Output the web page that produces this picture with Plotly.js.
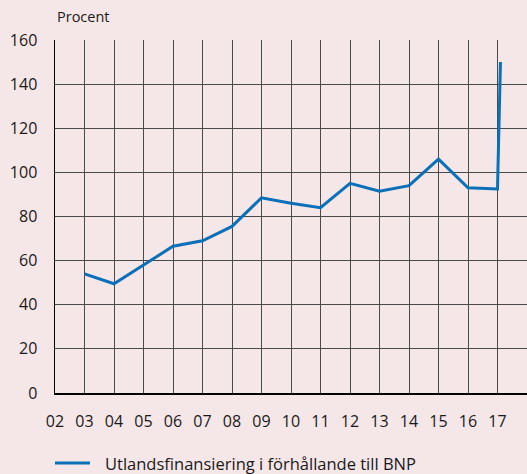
<!DOCTYPE html>
<html><head><meta charset="utf-8">
<script src="https://cdn.plot.ly/plotly-3.0.1.min.js"></script>
<style>html,body{margin:0;padding:0;background:#f5e6e7;}#chart{width:527px;height:474px;}</style>
</head><body><div id="chart"></div>
<script>
const years = [2003, 2004, 2005, 2006, 2007, 2008, 2009, 2010, 2011, 2012, 2013, 2014, 2015, 2016, 2017, 2017.1];
const values = [54, 49.5, 58, 66.5, 69, 75.5, 88.5, 86, 84, 95, 91.5, 94, 106, 93, 92.5, 150];
const tickVals = [2002,2003,2004,2005,2006,2007,2008,2009,2010,2011,2012,2013,2014,2015,2016,2017];
const tickText = ["02","03","04","05","06","07","08","09","10","11","12","13","14","15","16","17"];
const seriesName = "Utlandsfinansiering i förhållande till BNP";

const font = {family: "Open Sans, Lato, sans-serif", size: 16, color: "#1a1a1a"};
const W = 472, H = 353;
Plotly.newPlot("chart", [{
  x: years, y: values, type: "scatter", mode: "lines", name: seriesName,
  line: {color: "#0a70b8", width: 3}
}], {
  width: 527, height: 474,
  paper_bgcolor: "#f5e6e7", plot_bgcolor: "#f5e6e7",
  margin: {l: 55, r: 0, t: 40, b: 81},
  font: font,
  showlegend: false,
  xaxis: {range: [2002, 2018], tickvals: tickVals, ticktext: tickText, showgrid: true, gridcolor: "#4a4a4a", gridwidth: 1,
    showline: true, linecolor: "#000", linewidth: 1.5, ticks: "", ticklabelstandoff: 13, zeroline: false, fixedrange: true,
    tickfont: {size: 16}},
  yaxis: {range: [0, 160], dtick: 20, showgrid: true, gridcolor: "#4a4a4a", gridwidth: 1,
    showline: true, linecolor: "#000", linewidth: 1.5, ticks: "", ticklabelstandoff: 13, zeroline: false,
    tickfont: {size: 16}},
  shapes: [{type: "line", xref: "paper", yref: "paper", x0: 0, x1: 35 / W, y0: (393 - 463) / H, y1: (393 - 463) / H,
    line: {color: "#0a70b8", width: 3}}],
  annotations: [
    {xref: "paper", yref: "paper", x: 0, y: 1, yshift: 12, xanchor: "left", yanchor: "bottom",
     text: "Procent", showarrow: false, font: {size: 14.5}},
    {xref: "paper", yref: "paper", x: 48 / W, y: (393 - 463) / H, xanchor: "left", yanchor: "middle",
     text: seriesName, showarrow: false, font: {size: 16.5}}
  ]
}, {displayModeBar: false, staticPlot: true});
</script></body></html>
